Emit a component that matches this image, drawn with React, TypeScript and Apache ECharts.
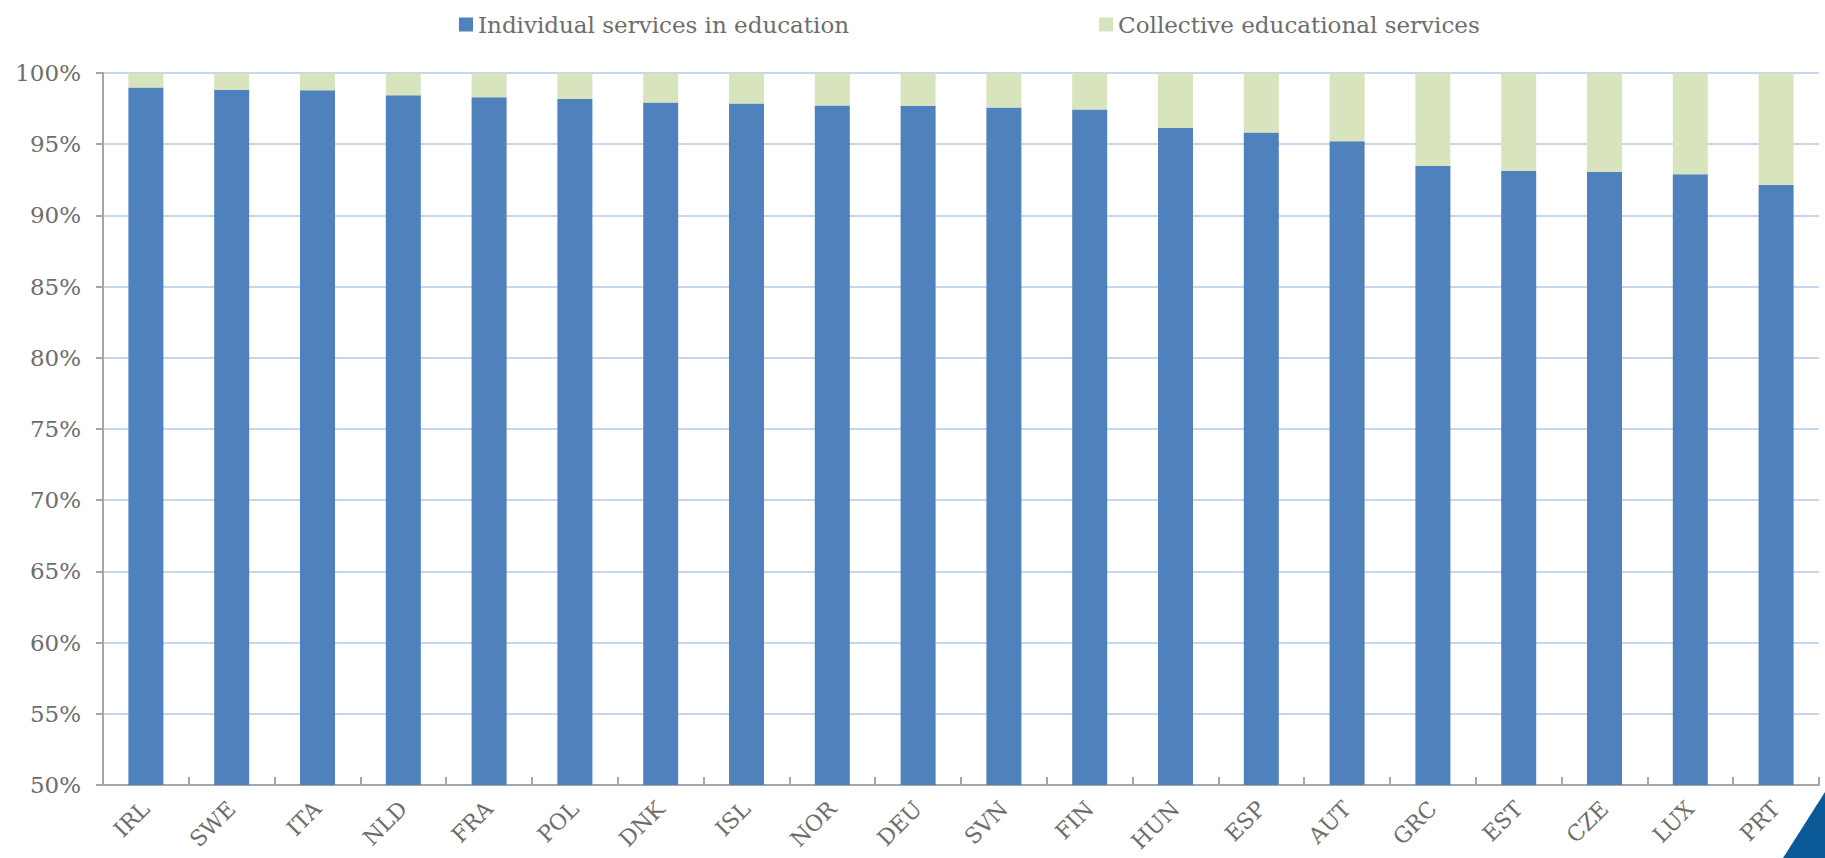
import React, { useEffect, useRef } from "react";
import * as echarts from "echarts";

const countries = ["IRL", "SWE", "ITA", "NLD", "FRA", "POL", "DNK", "ISL", "NOR", "DEU", "SVN", "FIN", "HUN", "ESP", "AUT", "GRC", "EST", "CZE", "LUX", "PRT"];
const individual = [98.99, 98.83, 98.78, 98.43, 98.29, 98.17, 97.93, 97.86, 97.72, 97.70, 97.58, 97.44, 96.13, 95.82, 95.21, 93.47, 93.12, 93.05, 92.89, 92.13];
const collective = [1.01, 1.17, 1.22, 1.57, 1.71, 1.83, 2.07, 2.14, 2.28, 2.30, 2.42, 2.56, 3.87, 4.18, 4.79, 6.53, 6.88, 6.95, 7.11, 7.87];
const seriesNames = ["Individual services in education", "Collective educational services"];
const yMin = 50;
const yMax = 100;
const yStep = 5;

const FONT = "DejaVu Serif";
const TEXT = "#6d6d6d";

export default function App() {
  const ref = useRef<HTMLDivElement>(null);
  useEffect(() => {
    if (!ref.current) return;
    const chart = echarts.init(ref.current, null, { renderer: "svg" });
    chart.setOption({
      animation: false,
      textStyle: { fontFamily: FONT },
      legend: {
        left: 454,
        top: 8,
        itemWidth: 14,
        itemHeight: 14,
        itemGap: 250,
        icon: "rect",
        textStyle: { fontFamily: FONT, fontSize: 23, color: TEXT, padding: [0, 0, 0, 0] },
        data: seriesNames,
      },
      grid: { left: 103, right: 6, top: 73, bottom: 73, containLabel: false, outerBoundsMode: "none" },
      xAxis: {
        type: "category",
        data: countries,
        axisLine: { lineStyle: { color: "#a6a6a6", width: 2 } },
        axisTick: { show: true, inside: true, length: 8, lineStyle: { color: "#a6a6a6", width: 2 } },
        axisLabel: { rotate: 45, fontFamily: FONT, fontSize: 22, color: TEXT, margin: 20, interval: 0 },
      },
      yAxis: {
        type: "value",
        min: yMin,
        max: yMax,
        interval: yStep,
        axisLine: { show: true, lineStyle: { color: "#a6a6a6", width: 2 } },
        axisTick: { show: true, length: 7, lineStyle: { color: "#a6a6a6", width: 2 } },
        axisLabel: { formatter: "{value}%", fontFamily: FONT, fontSize: 23, color: TEXT, margin: 22 },
        splitLine: { show: true, lineStyle: { color: "#c6d7ec", width: 2 } },
      },
      series: [
        {
          name: seriesNames[0],
          type: "bar",
          stack: "total",
          data: individual,
          barWidth: 35,
          itemStyle: { color: "#4f81bd" },
        },
        {
          name: seriesNames[1],
          type: "bar",
          stack: "total",
          data: collective,
          barWidth: 35,
          itemStyle: { color: "#d7e4bd" },
        },
      ],
      graphic: [
        {
          type: "polygon",
          shape: { points: [[1825, 792], [1783, 858], [1825, 858]] },
          style: { fill: "#0b5a97" },
        },
      ],
    });
    return () => chart.dispose();
  }, []);
  return <div ref={ref} style={{ position: "absolute", left: 0, top: 0, width: 1825, height: 858 }} />;
}
